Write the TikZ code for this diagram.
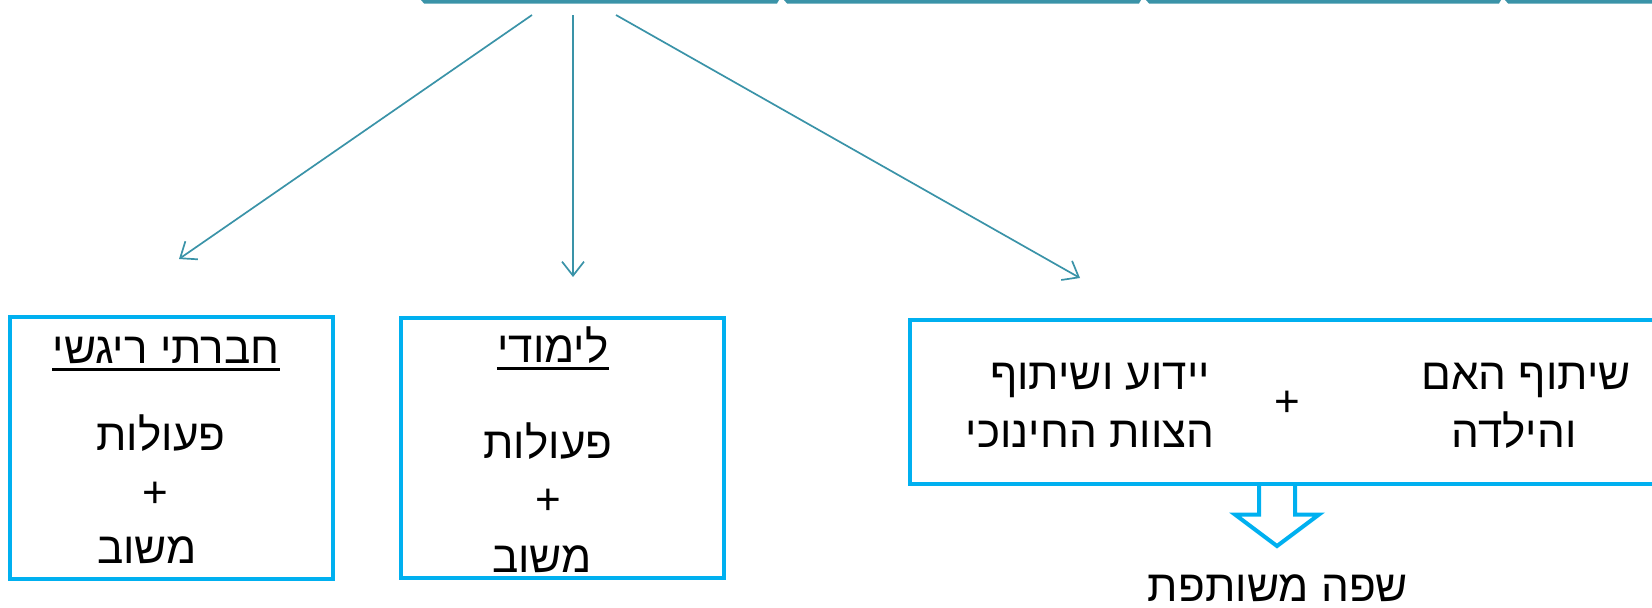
\documentclass[tikz,border=0pt]{standalone}
\usepackage{fontspec}
\setmainfont{Liberation Sans}
\newfontfamily\hebfont[Script=Hebrew]{Liberation Sans}
\usetikzlibrary{arrows.meta}
\TeXXeTstate=1
\definecolor{linkteal}{HTML}{3A93A8}
\definecolor{framecyan}{HTML}{00B0F0}
\newcommand{\heb}[1]{{\hebfont\beginR #1\endR}}

\begin{document}
\begin{tikzpicture}[x=0.5pt,y=-0.5pt,
    >={Straight Barb[length=7pt,width=11pt]},
    link/.style={->,draw=linkteal,line width=0.85pt},
    tab/.style={fill=linkteal},
    frame/.style={draw=framecyan,line width=2pt},
    word/.style={font=\fontsize{22}{28}\selectfont,inner sep=0pt,anchor=base}]

\clip (0,0) rectangle (1652,607);

% tabs along the top edge
\fill[tab] (421,0) -- (779,0) -- (777,3.5) -- (424,3.5) -- cycle;
\fill[tab] (784,0) -- (1141,0) -- (1139,3.5) -- (787,3.5) -- cycle;
\fill[tab] (1146,0) -- (1501,0) -- (1499,3.5) -- (1149,3.5) -- cycle;
\fill[tab] (1505,0) -- (1660,0) -- (1660,3.5) -- (1508,3.5) -- cycle;

\coordinate (s1) at (532,15);
\coordinate (s2) at (573,15);
\coordinate (s3) at (616,15);
\coordinate (e1) at (179,259);
\coordinate (e2) at (573,277);
\coordinate (e3) at (1080,278);

\draw[link] (s1) -- (e1);
\draw[link] (s2) -- (e2);
\draw[link] (s3) -- (e3);

% boxes
\node (social) [frame,minimum width=161.75pt,minimum height=131pt] at (171.25,448) {};
\node (study) [frame,minimum width=161.5pt,minimum height=130pt] at (562.5,448) {};
\node (share) [frame,minimum width=395pt,minimum height=82pt] at (1305,401.5) {};

% social box
\node (t1) [word] at (166,363) {\heb{חברתי ריגשי}};
\draw[line width=1.5pt] ([yshift=-3pt]t1.base west) -- ([yshift=-3pt]t1.base east);
\node (b1a) [word] at (161,450) {\heb{פעולות}};
\node (b1b) [word] at (155,507) {+};
\node (b1c) [word] at (147,563) {\heb{משוב}};

% study box
\node (t2) [word] at (553,362) {\heb{לימודי}};
\draw[line width=1.5pt] ([yshift=-3pt]t2.base west) -- ([yshift=-3pt]t2.base east);
\node (b2a) [word] at (548,458) {\heb{פעולות}};
\node (b2b) [word] at (548,514) {+};
\node (b2c) [word] at (542,572) {\heb{משוב}};

% share box
\node (l1) [word] at (1100,389) {\heb{יידוע ושיתוף}};
\node (l2) [word] at (1090,447) {\heb{הצוות החינוכי}};
\node (plus) [word] at (1287,416) {+};
\node (r1) [word] at (1526,389) {\heb{שיתוף האם}};
\node (r2) [word] at (1514,447) {\heb{והילדה}};

% block arrow
\draw[frame,line join=miter] (1259,484) -- (1259,514.5) -- (1235,514.5) -- (1277,546)
    -- (1319,514.5) -- (1295,514.5) -- (1295,484);

\node (common) [word] at (1278,601) {\heb{שפה משותפת}};

\end{tikzpicture}
\end{document}
